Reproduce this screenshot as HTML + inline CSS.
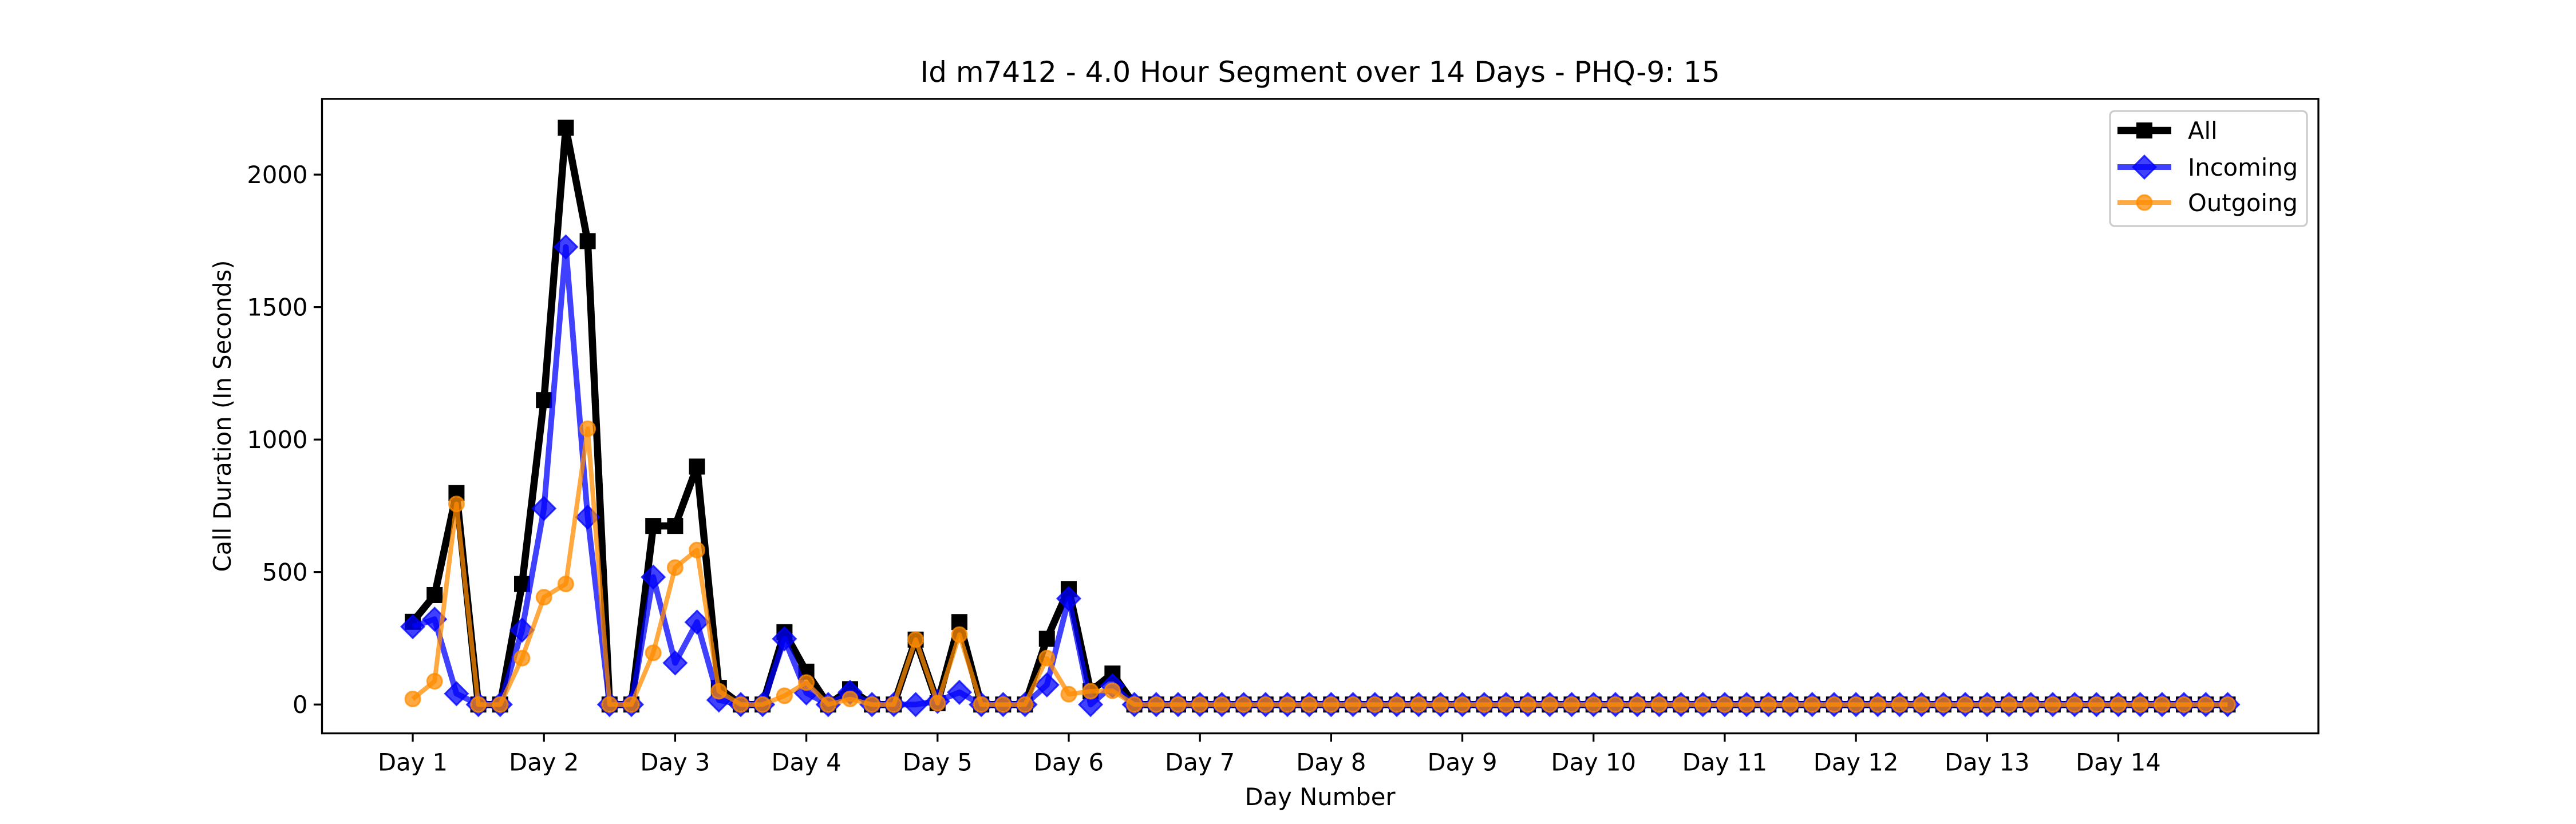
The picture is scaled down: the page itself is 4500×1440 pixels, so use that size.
<!DOCTYPE html>
<html><head><meta charset="utf-8">
<style>
html,body{margin:0;padding:0;background:#fff;}
svg{display:block;font-family:"DejaVu Sans","Liberation Sans",sans-serif;}
</style></head>
<body>
<svg id="chart" width="4500" height="1440" viewBox="0 0 4500 1440" xmlns="http://www.w3.org/2000/svg">
<rect x="0" y="0" width="4500" height="1440" fill="#fff"/>
<text x="2306" y="143" font-size="50" text-anchor="middle">Id m7412 - 4.0 Hour Segment over 14 Days - PHQ-9: 15</text>
<g id="grid"></g>
<g id="series"></g>
<rect x="562.5" y="172.8" width="3487.5" height="1108.8" fill="none" stroke="#000" stroke-width="3.3"/>
<g id="axes"></g>
<text x="2306" y="1407" font-size="41.7" text-anchor="middle">Day Number</text>
<text transform="translate(403,727) rotate(-90)" font-size="41.7" text-anchor="middle">Call Duration (In Seconds)</text>
<g>
<rect x="3686" y="194" width="344" height="201" rx="8" fill="#fff" fill-opacity="0.8" stroke="#ccc" stroke-width="3.3"/>
<g>
<line x1="3699" y1="228" x2="3793" y2="228" stroke="#000" stroke-width="12.5"/>
<rect x="3732" y="214" width="28" height="28" fill="#000"/>
<text x="3822" y="243" font-size="41.7">All</text></g>
<g>
<line x1="3699" y1="292" x2="3793" y2="292" stroke="#0000ff" stroke-opacity="0.75" stroke-width="10"/>
<polygon points="3746,272 3766,292 3746,312 3726,292" fill="#0000ff" fill-opacity="0.75" stroke="#0000ff" stroke-opacity="0.75" stroke-width="3"/>
<text x="3822" y="307" font-size="41.7">Incoming</text></g>
<g>
<line x1="3699" y1="354" x2="3793" y2="354" stroke="#ff8c00" stroke-opacity="0.75" stroke-width="8"/>
<circle cx="3746" cy="354" r="13" fill="#ff8c00" fill-opacity="0.75" stroke="#ff8c00" stroke-opacity="0.75" stroke-width="3"/>
<text x="3822" y="369" font-size="41.7">Outgoing</text></g>
</g>
</svg>
<script>
const dayLabels = ["Day 1","Day 2","Day 3","Day 4","Day 5","Day 6","Day 7","Day 8","Day 9","Day 10","Day 11","Day 12","Day 13","Day 14"];
const yTicks = [0,500,1000,1500,2000];
const allValues = [312,413,798,0,0,455,1149,2177,1749,0,0,674,674,898,63,0,0,273,124,0,58,0,0,245,5,311,0,0,0,248,436,50,117,0,0,0,0,0,0,0,0,0,0,0,0,0,0,0,0,0,0,0,0,0,0,0,0,0,0,0,0,0,0,0,0,0,0,0,0,0,0,0,0,0,0,0,0,0,0,0,0,0,0,0];
const incomingValues = [294,322,41,0,0,281,740,1727,707,0,0,481,157,311,17,0,0,248,44,0,46,0,0,0,12,46,0,0,0,74,400,0,71,0,0,0,0,0,0,0,0,0,0,0,0,0,0,0,0,0,0,0,0,0,0,0,0,0,0,0,0,0,0,0,0,0,0,0,0,0,0,0,0,0,0,0,0,0,0,0,0,0,0,0];
const outgoingValues = [21,88,757,0,0,175,405,455,1041,0,0,195,517,583,50,0,0,33,83,0,21,0,0,245,5,264,0,0,0,175,39,50,52,0,0,0,0,0,0,0,0,0,0,0,0,0,0,0,0,0,0,0,0,0,0,0,0,0,0,0,0,0,0,0,0,0,0,0,0,0,0,0,0,0,0,0,0,0,0,0,0,0,0,0];

const NS = "http://www.w3.org/2000/svg";
const L=562.5, R=4050, T=172.8, B=1281.6;
const n = allValues.length;
const xmin = -(n-1)*0.05, xmax = (n-1)*1.05;
const ymaxData = Math.max(...allValues, ...incomingValues, ...outgoingValues);
const ymin = -ymaxData*0.05, ymax = ymaxData*1.05;
function xs(i){ return L + (i - xmin)/(xmax - xmin)*(R-L); }
function ys(v){ return B - (v - ymin)/(ymax - ymin)*(B-T); }
function el(tag, attrs, parent){ const e=document.createElementNS(NS,tag); for(const k in attrs) e.setAttribute(k, attrs[k]); parent.appendChild(e); return e; }

const axes = document.getElementById('axes');
yTicks.forEach(v=>{
  const g = el('g',{},axes);
  
  
  el('line',{x1:L-14.6,x2:L,y1:ys(v),y2:ys(v),stroke:'#000','stroke-width':3.3},g);
  const t = el('text',{x:L-25,y:ys(v)+15,'font-size':41.7,'text-anchor':'end'},g);
  t.textContent = v;
});
dayLabels.forEach((d,k)=>{
  const g = el('g',{},axes);
  
  
  const x = xs(k*6);
  el('line',{x1:x,x2:x,y1:B,y2:B+14.6,stroke:'#000','stroke-width':3.3},g);
  const t = el('text',{x:x,y:B+65,'font-size':41.7,'text-anchor':'middle'},g);
  t.textContent = d;
});

const sg = document.getElementById('series');
function drawSeries(vals, name, color, opacity, lw, marker){
  const g = el('g',{},sg);
  
  
  const pts = vals.map((v,i)=>xs(i).toFixed(1)+','+ys(v).toFixed(1)).join(' ');
  el('polyline',{points:pts,fill:'none',stroke:color,'stroke-opacity':opacity,'stroke-width':lw,'stroke-linejoin':'round'},g);
  vals.forEach((v,i)=>{
    const x=xs(i), y=ys(v);
    let m;
    if(marker==='square') m = el('rect',{x:x-14,y:y-14,width:28,height:28,fill:color},g);
    else if(marker==='diamond') m = el('polygon',{points:`${x},${y-20} ${x+20},${y} ${x},${y+20} ${x-20},${y}`,fill:color,'fill-opacity':opacity,stroke:color,'stroke-opacity':opacity,'stroke-width':3},g);
    else m = el('circle',{cx:x,cy:y,r:13,fill:color,'fill-opacity':opacity,stroke:color,'stroke-opacity':opacity,'stroke-width':3},g);
    
    
  });
}
drawSeries(allValues,'all-series','#000000',1,12.5,'square');
drawSeries(incomingValues,'incoming-series','#0000ff',0.75,10,'diamond');
drawSeries(outgoingValues,'outgoing-series','#ff8c00',0.75,8,'circle');
</script>
</body></html>
